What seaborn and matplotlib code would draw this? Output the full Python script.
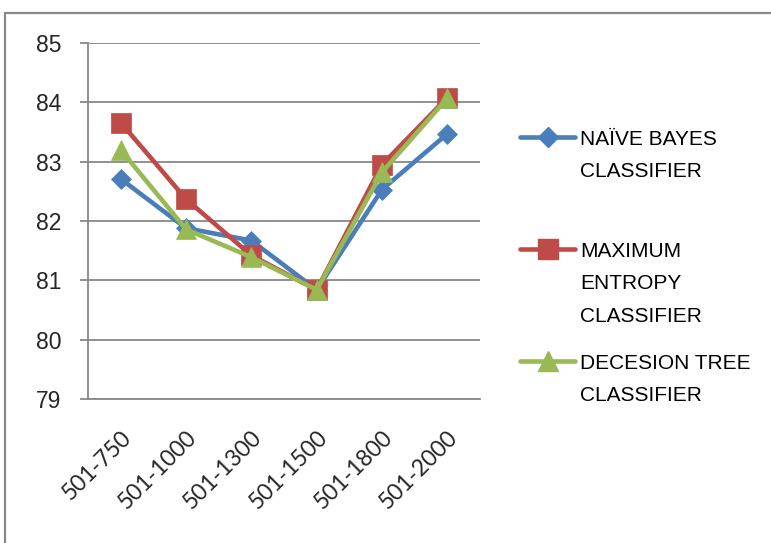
import matplotlib
matplotlib.use("Agg")
import matplotlib.pyplot as plt
from matplotlib.lines import Line2D
from matplotlib.patches import Rectangle
from matplotlib.transforms import ScaledTranslation
import seaborn as sns
import pandas as pd

# Word-count ranges and accuracy (%) of each classifier
ranges = ["501-750", "501-1000", "501-1300", "501-1500", "501-1800", "501-2000"]
naive_bayes = [82.71, 81.88, 81.67, 80.84, 82.53, 83.47]
max_entropy = [83.66, 82.37, 81.42, 80.84, 82.95, 84.08]
decision_tree = [83.20, 81.86, 81.39, 80.84, 82.82, 84.07]

series_names = ["NAÏVE BAYES\nCLASSIFIER", "MAXIMUM\nENTROPY\nCLASSIFIER", "DECESION TREE\nCLASSIFIER"]
colors = ["#4A7EBB", "#BE4B48", "#98B954"]
markers = ["D", "s", "^"]
marker_sizes = [10, 14, 14]
y_ticks = [79, 80, 81, 82, 83, 84, 85]

df = pd.concat([
    pd.DataFrame({"range": ranges, "accuracy": vals, "classifier": name})
    for name, vals in zip(series_names, [naive_bayes, max_entropy, decision_tree])
])
df["pos"] = df["range"].map({r: i for i, r in enumerate(ranges)})

sns.set_style("white")
W, H = 771, 543
fig = plt.figure(figsize=(W / 100, H / 100), dpi=100)
ax = fig.add_axes([88 / W, 1 - 399 / H, (480 - 88) / W, (399 - 43) / H])

sans = ["Liberation Sans", "DejaVu Sans"]
label_font = ["Lato", "DejaVu Sans"]
grey = "#888888"

sns.lineplot(data=df, x="pos", y="accuracy", hue="classifier", style="classifier",
             hue_order=series_names, style_order=series_names,
             palette=dict(zip(series_names, colors)),
             markers=dict(zip(series_names, markers)), dashes=False,
             linewidth=3.3, legend=False, ax=ax, zorder=3)

for line, ms, c in zip(ax.lines, marker_sizes, colors):
    line.set_markersize(ms)
    line.set_markeredgecolor(c)
    line.set_markeredgewidth(0.5)
    line.set_solid_capstyle("round")
    line.set_solid_joinstyle("round")

ax.set_xlim(-0.5, len(ranges) - 0.5)
ax.set_ylim(79, 85)
ax.set_yticks(y_ticks)
ax.set_yticklabels([str(t) for t in y_ticks], fontsize=16.5, family=sans)
ax.set_xticks(range(len(ranges)))
ax.set_xticklabels(ranges, rotation=45, ha="right", va="top", rotation_mode="anchor",
                   fontsize=16.5, family=label_font)
shift = ScaledTranslation(-6 / 100, 0, fig.dpi_scale_trans)
for lab in ax.get_xticklabels():
    lab.set_transform(lab.get_transform() + shift)
ax.set_xticks([i - 0.5 for i in range(len(ranges) + 1)], minor=True)
ax.tick_params(axis="x", which="major", length=0, pad=20)
ax.tick_params(axis="x", which="minor", length=6, width=1.3, color=grey, direction="out")
ax.tick_params(axis="y", length=6, width=1.3, color=grey, direction="out", pad=13, left=True)
ax.set_xlabel("")
ax.set_ylabel("")
ax.grid(axis="y", color=grey, linewidth=1.3)
ax.grid(axis="x", visible=False)
for side in ["top", "right"]:
    ax.spines[side].set_visible(False)
for side in ["left", "bottom"]:
    ax.spines[side].set_color(grey)
    ax.spines[side].set_linewidth(1.3)
ax.set_axisbelow(True)

# Legend drawn beside the plot, marker aligned with the first text line
entry_y = [137, 249, 361]
for name, c, m, ms, y0 in zip(series_names, colors, markers, marker_sizes, entry_y):
    fy = 1 - y0 / H
    fig.add_artist(Line2D([520 / W, 575 / W], [fy, fy], transform=fig.transFigure,
                          color=c, linewidth=3.3, solid_capstyle="round"))
    fig.add_artist(Line2D([547.5 / W], [fy], transform=fig.transFigure, color=c,
                          marker=m, markersize=ms, markeredgecolor=c, linestyle="none"))
    for k, text_line in enumerate(name.split("\n")):
        base = y0 + 8 + k * 32.3
        fig.text(580 / W, 1 - base / H, text_line, fontsize=15, family=sans,
                 va="baseline", ha="left", color="black")

# Chart frame
fig.add_artist(Rectangle((5 / W, -0.1), 1.2, (H - 13) / H + 0.1, transform=fig.transFigure,
                         fill=False, edgecolor=grey, linewidth=1.6))

fig.savefig("out.png", dpi=100)
